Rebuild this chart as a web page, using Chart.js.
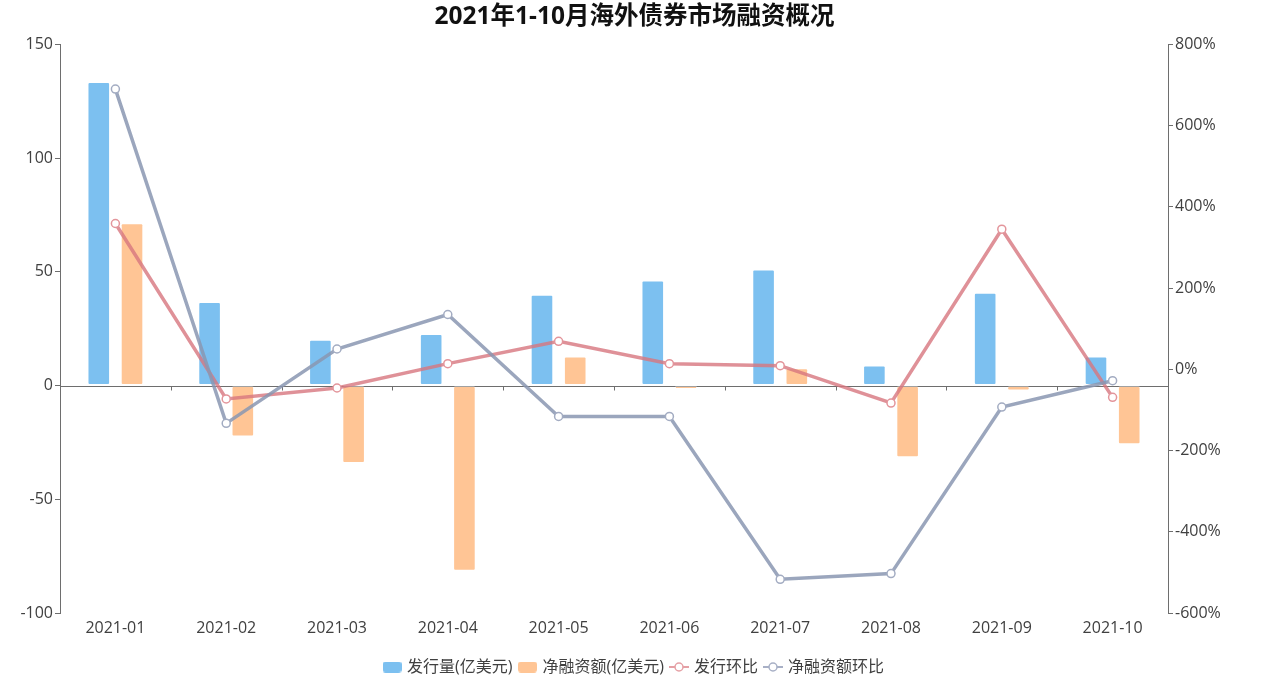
<!DOCTYPE html>
<html>
<head>
<meta charset="utf-8">
<script src="https://cdn.jsdelivr.net/npm/chart.js@4.4.1/dist/chart.umd.min.js"></script>
<style>
    html, body { margin: 0; padding: 0; background: #fff; }
    #wrap { width: 1269px; height: 681px; }
</style>
</head>
<body>
<div id="wrap"><canvas id="chart"></canvas></div>
<script>
const months = ['2021-01', '2021-02', '2021-03', '2021-04', '2021-05', '2021-06', '2021-07', '2021-08', '2021-09', '2021-10'];
const issueAmount = [133.5, 36.7, 20.1, 22.7, 39.9, 46.2, 51.0, 8.8, 40.8, 12.8];
const netFinancing = [71.4, -22.4, -34.1, -81.4, 12.8, -1.5, 7.6, -31.5, -2.2, -25.8];
const issueMoM = [359, -73, -46, 14, 69, 14, 9, -83, 345, -69];
const netMoM = [690, -133, 50, 135, -116, -116, -517, -503, -93, -28];
const leftTicks = [-100, -50, 0, 50, 100, 150];
const rightTicks = [-600, -400, -200, 0, 200, 400, 600, 800];

const blue = '#7cc0f0';
const orange = '#ffc595';
const red = 'rgba(215, 118, 126, 0.8)';
const gray = 'rgba(138, 151, 178, 0.85)';
const axisColor = '#6e6e6e';
const textColor = '#404040';
const font = "'Open Sans', 'Noto Sans CJK SC', sans-serif";

// little images for the legend markers
function boxIcon(color) {
    const c = document.createElement('canvas');
    c.width = 19; c.height = 11;
    const g = c.getContext('2d');
    g.fillStyle = color;
    g.beginPath();
    g.roundRect(0, 0, 19, 11, 3);
    g.fill();
    return c;
}

function lineIcon(color) {
    const c = document.createElement('canvas');
    c.width = 20; c.height = 12;
    const g = c.getContext('2d');
    g.strokeStyle = color;
    g.lineWidth = 2;
    g.beginPath();
    g.moveTo(0, 6); g.lineTo(20, 6);
    g.stroke();
    g.fillStyle = '#fff';
    g.lineWidth = 1.5;
    g.beginPath();
    g.arc(10, 6, 4, 0, Math.PI * 2);
    g.fill();
    g.stroke();
    return c;
}

const legendIcons = [boxIcon(blue), boxIcon(orange), lineIcon('#e5a0a5'), lineIcon('#a8b0c6')];

// zero line across the plot and the category tick marks on it
const zeroLine = {
    id: 'zeroLine',
    beforeDatasetsDraw(chart) {
        const ctx = chart.ctx;
        const x = chart.scales.x;
        const y = chart.scales.y;
        const y0 = Math.round(y.getPixelForValue(0)) + 0.5;
        ctx.save();
        ctx.strokeStyle = axisColor;
        ctx.lineWidth = 1;
        ctx.beginPath();
        ctx.moveTo(chart.chartArea.left, y0);
        ctx.lineTo(chart.chartArea.right, y0);
        const step = (x.right - x.left) / months.length;
        for (let i = 1; i < months.length; i++) {
            const px = Math.round(x.left + step * i) + 0.5;
            ctx.moveTo(px, y0);
            ctx.lineTo(px, y0 + 4);
        }
        ctx.stroke();
        ctx.restore();
    }
};

new Chart(document.getElementById('chart'), {
    type: 'bar',
    data: {
        labels: months,
        datasets: [
            {
                label: '发行量(亿美元)',
                data: issueAmount,
                backgroundColor: blue,
                borderColor: 'rgba(255,255,255,0.35)',
                borderWidth: 1,
                borderRadius: 2,
                borderSkipped: false,
                yAxisID: 'y',
                order: 3,
                categoryPercentage: 0.6,
                barPercentage: 0.68
            },
            {
                label: '净融资额(亿美元)',
                data: netFinancing,
                backgroundColor: orange,
                borderColor: 'rgba(255,255,255,0.35)',
                borderWidth: 1,
                borderRadius: 2,
                borderSkipped: false,
                yAxisID: 'y',
                order: 4,
                categoryPercentage: 0.6,
                barPercentage: 0.68
            },
            {
                type: 'line',
                label: '发行环比',
                data: issueMoM,
                borderColor: red,
                borderWidth: 3.5,
                tension: 0,
                pointRadius: 4,
                pointBorderWidth: 1.5,
                pointBackgroundColor: '#fff',
                pointBorderColor: '#e3959b',
                yAxisID: 'y1',
                order: 2
            },
            {
                type: 'line',
                label: '净融资额环比',
                data: netMoM,
                borderColor: gray,
                borderWidth: 3.5,
                tension: 0,
                pointRadius: 4,
                pointBorderWidth: 1.5,
                pointBackgroundColor: '#fff',
                pointBorderColor: '#a3acc2',
                yAxisID: 'y1',
                order: 1
            }
        ]
    },
    options: {
        responsive: true,
        maintainAspectRatio: false,
        animation: false,
        layout: { padding: { left: 0, right: 0, top: 0, bottom: -4 } },
        plugins: {
            title: {
                display: true,
                text: '2021年1-10月海外债券市场融资概况',
                color: '#111',
                font: { family: font, size: 24.5, weight: 'bold' },
                padding: { top: 2, bottom: 13 }
            },
            legend: {
                position: 'bottom',
                labels: {
                    usePointStyle: true,
                    pointStyleWidth: 14,
                    padding: 8,
                    color: textColor,
                    font: { family: font, size: 16 },
                    generateLabels(chart) {
                        return chart.data.datasets.map((ds, i) => ({
                            text: ds.label,
                            pointStyle: legendIcons[i],
                            fillStyle: 'transparent',
                            strokeStyle: 'transparent',
                            lineWidth: 0,
                            fontColor: textColor,
                            hidden: !chart.isDatasetVisible(i),
                            datasetIndex: i
                        }));
                    }
                }
            },
            tooltip: { enabled: false }
        },
        scales: {
            x: {
                grid: { display: false },
                border: { display: false },
                ticks: { color: textColor, font: { family: font, size: 16 }, padding: -2 },
                afterFit(scale) { scale.height = 38; }
            },
            y: {
                position: 'left',
                min: -100,
                max: 150,
                afterBuildTicks(scale) { scale.ticks = leftTicks.map(v => ({ value: v })); },
                grid: {
                    color: 'rgba(0,0,0,0)',
                    tickColor: axisColor,
                    tickLength: 5
                },
                border: { display: true, color: axisColor },
                ticks: { color: textColor, font: { family: font, size: 16 }, padding: 2 },
                afterFit(scale) { scale.width = 60; }
            },
            y1: {
                position: 'right',
                min: -600,
                max: 800,
                afterBuildTicks(scale) { scale.ticks = rightTicks.map(v => ({ value: v })); },
                grid: {
                    drawOnChartArea: false,
                    tickColor: axisColor,
                    tickLength: 5
                },
                border: { display: true, color: axisColor },
                ticks: {
                    color: textColor,
                    font: { family: font, size: 16 },
                    padding: 2,
                    callback: v => v + '%'
                },
                afterFit(scale) { scale.width = 101; }
            }
        }
    },
    plugins: [zeroLine]
});
</script>
</body>
</html>
